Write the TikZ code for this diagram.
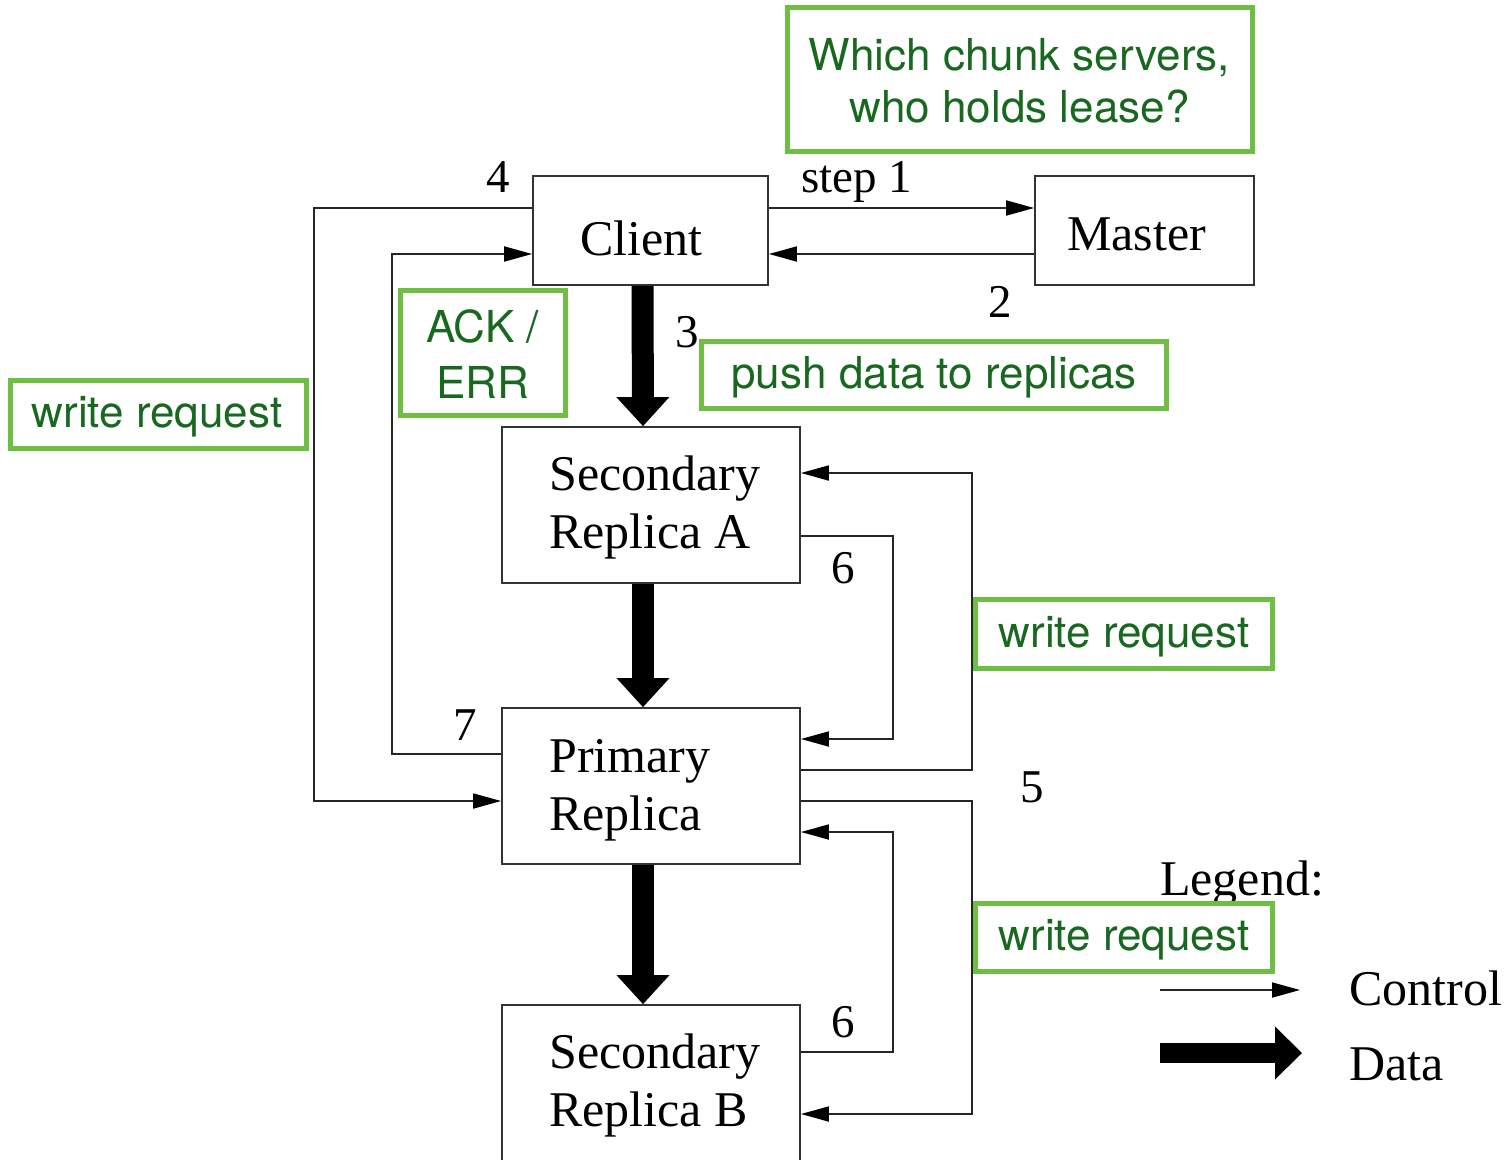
\documentclass[tikz,border=0pt]{standalone}
\usepackage{fontspec}
\setmainfont{Liberation Serif}
\newfontfamily\notefont{TeX Gyre Heros}
\usetikzlibrary{arrows.meta}
\definecolor{noteline}{RGB}{110,190,68}
\definecolor{notetext}{RGB}{24,104,32}

\begin{document}
\begin{tikzpicture}[x=1pt,y=-1pt,
  box/.style={draw=black!80,line width=1.8pt,inner sep=0pt},
  lbl/.style={inner sep=0pt,anchor=base,font=\fontsize{50}{58}\selectfont},
  lblw/.style={lbl,anchor=base west},
  num/.style={inner sep=0pt,anchor=base,font=\fontsize{47}{52}\selectfont},
  ctl/.style={draw=black!85,line width=1.8pt,-{Triangle[length=28pt,width=15pt,color=black]}},
  dat/.style={draw=black,line width=22pt,-{Triangle[length=29pt,width=53pt,line width=0pt]}},
  noteb/.style={draw=noteline,line width=5pt,fill=white,inner sep=0pt},
  note/.style={inner sep=0pt,anchor=base,text=notetext,font=\notefont\fontsize{44}{52}\selectfont},
]
\useasboundingbox (0,0) rectangle (1504,1159);

% boxes
\node[box,minimum width=235,minimum height=109] (client) at (650.5,230.5) {};
\node[box,minimum width=219,minimum height=109] (master) at (1144.5,230.5) {};
\node[box,minimum width=298,minimum height=156] (secA) at (651,505) {};
\node[box,minimum width=298,minimum height=156] (prim) at (651,786) {};
\node[box,minimum width=298,minimum height=156] (secB) at (651,1083) {};

% box captions
\node[lbl] (clientT) at (641.5,255) {Client};
\node[lbl] (masterT) at (1136.5,250) {Master};
\node[lblw] (secA1) at (549,490) {Secondary};
\node[lblw] (secA2) at (549,548) {Replica A};
\node[lblw] (prim1) at (549,772) {Primary};
\node[lblw] (prim2) at (549,830) {Replica};
\node[lblw] (secB1) at (549,1068) {Secondary};
\node[lblw] (secB2) at (549,1126) {Replica B};

% step numbers
\node[num] (n4) at (498,192) {4};
\node[num,anchor=base west] (n1) at (801,192) {step 1};
\node[num] (n2) at (1000,317) {2};
\node[num] (n3) at (687,347) {3};
\node[num] (n6a) at (843,583) {6};
\node[num] (n5) at (1032,802) {5};
\node[num] (n6b) at (843,1037) {6};
\node[num] (n7) at (465,740) {7};

% corner points of the control paths
\coordinate (k4) at (314,801);
\coordinate (k7) at (392,254);
\coordinate (k5a) at (972,473);
\coordinate (k5b) at (972,1114);
\coordinate (k6a) at (893,739);
\coordinate (k6b) at (893,832);

% control flow
\draw[ctl] ([yshift=22.5pt]client.east) -- ([yshift=22.5pt]master.west);
\draw[ctl] ([yshift=-23.5pt]master.west) -- ([yshift=-23.5pt]client.east);
\draw[ctl] ([yshift=22.5pt]client.west) -| (k4) -- ([yshift=-15pt]prim.west);
\draw[ctl] ([yshift=32pt]prim.west) -| (k7) -- ([yshift=-23.5pt]client.west);
\draw[ctl] ([yshift=16pt]prim.east) -| (k5a) -- ([yshift=32pt]secA.east);
\draw[ctl] ([yshift=-15pt]prim.east) -| (k5b) -- ([yshift=-31pt]secB.east);
\draw[ctl] ([yshift=-31pt]secA.east) -| (k6a) -- ([yshift=47pt]prim.east);
\draw[ctl] ([yshift=31pt]secB.east) -| (k6b) -- ([yshift=-46pt]prim.east);

% data flow
\draw[dat] ([xshift=-8pt]client.south) -- ([xshift=-8pt]secA.north);
\draw[dat] ([xshift=-8pt]secA.south) -- ([xshift=-8pt]prim.north);
\draw[dat] ([xshift=-8pt]prim.south) -- ([xshift=-8pt]secB.north);

% legend
\node[lblw] (legT) at (1160,895) {Legend:};
\coordinate (ctlS) at (1160,990);
\coordinate (ctlE) at (1300,990);
\coordinate (datS) at (1160,1053);
\coordinate (datE) at (1302,1053);
\draw[ctl] (ctlS) -- (ctlE);
\draw[dat,line width=20pt,-{Triangle[length=27pt,width=53pt,line width=0pt]}] (datS) -- (datE);
\node[lblw] (ctlT) at (1349,1005) {Control};
\node[lblw] (datT) at (1349,1080) {Data};

% annotations
\node[noteb,minimum width=465,minimum height=144] (qBox) at (1019.5,79) {};
\node[note] (q1) at (1019.5,70) {Which chunk servers,};
\node[note] (q2) at (1019.5,122) {who holds lease?};
\node[noteb,minimum width=165,minimum height=125] (ackBox) at (483,353) {};
\node[note] (ack1) at (482.5,342) {ACK /};
\node[note] (ack2) at (483,398) {ERR};
\node[noteb,minimum width=465,minimum height=67] (pushBox) at (933.5,374.5) {};
\node[note] (pushT) at (934,388) {push data to replicas};
\node[noteb,minimum width=296,minimum height=68] (wlBox) at (158,414) {};
\node[note] (wlT) at (157,427) {write request};
\node[noteb,minimum width=297,minimum height=69] (wr1Box) at (1123.5,633.5) {};
\node[note] (wr1T) at (1124,647) {write request};
\node[noteb,minimum width=297,minimum height=68] (wr2Box) at (1123.5,937) {};
\node[note] (wr2T) at (1124,950) {write request};
\end{tikzpicture}
\end{document}
